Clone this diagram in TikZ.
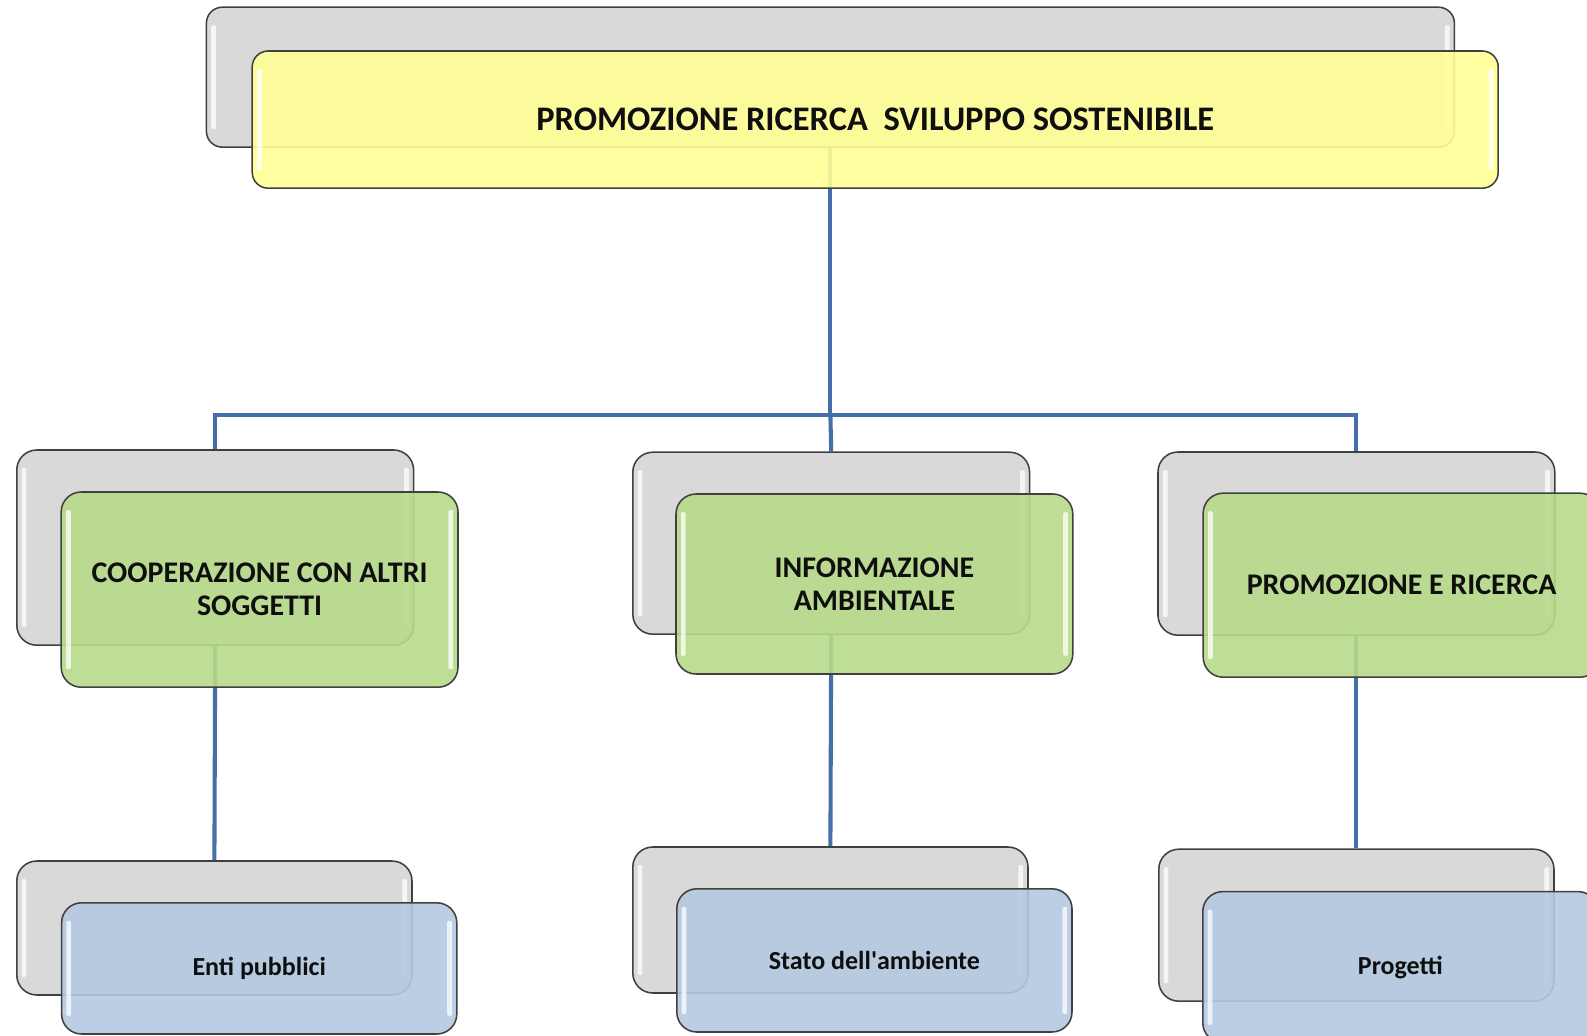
\documentclass[tikz,border=0pt]{standalone}
\usepackage{fontspec}
\setmainfont{Carlito}
\usetikzlibrary{backgrounds}
\definecolor{backgray}{RGB}{217, 217, 217}
\definecolor{titleyellow}{RGB}{255, 255, 150}
\definecolor{areagreen}{RGB}{183, 218, 138}
\definecolor{itemblue}{RGB}{181, 201, 225}
\definecolor{linkblue}{RGB}{70, 110, 168}
\definecolor{textdark}{RGB}{15, 15, 15}

\begin{document}
\begin{tikzpicture}[
        card/.style={rectangle, draw=black!75, line width=1.1pt, rounded corners=0.5cm, align=center,
            text=textdark, font=\bfseries,
            path picture={
                \fill[white, opacity=0.75, rounded corners=1pt]
                    ([shift={(0.12cm,-0.45cm)}]path picture bounding box.north west) rectangle
                    ([shift={(0.24cm,0.45cm)}]path picture bounding box.south west);
                \fill[white, opacity=0.75, rounded corners=1pt]
                    ([shift={(-0.24cm,-0.45cm)}]path picture bounding box.north east) rectangle
                    ([shift={(-0.12cm,0.45cm)}]path picture bounding box.south east);
            }},
        backbox/.style={card, fill=backgray},
        frontbox/.style={card, fill opacity=0.9, text opacity=1},
        level2/.style={minimum width=9.92cm, font=\bfseries\fontsize{21.3}{23.5}\selectfont},
        level3/.style={minimum width=9.88cm, font=\bfseries\fontsize{18.5}{22}\selectfont},
        link/.style={draw=linkblue, line width=2.9pt}
    ]
        \useasboundingbox (0,0) rectangle (39.675,-25.9);

        % Title
        \node[backbox, minimum width=31.2cm, minimum height=3.5cm, rounded corners=0.4cm] (topback) at (20.76,-1.93) {};
        \node[frontbox, fill=titleyellow, minimum width=31.15cm, minimum height=3.43cm, rounded corners=0.4cm,
            font=\bfseries\fontsize{24.5}{29}\selectfont] (top) at (21.88,-2.99) {PROMOZIONE RICERCA\ \ SVILUPPO SOSTENIBILE};

        % Areas
        \node[backbox, level2, minimum height=4.88cm] (coopback) at (5.38,-13.69) {};
        \node[frontbox, level2, fill=areagreen, minimum height=4.88cm] (coop) at (6.49,-14.74) {COOPERAZIONE CON ALTRI\\SOGGETTI};

        \node[backbox, level2, minimum height=4.55cm] (infoback) at (20.78,-13.58) {};
        \node[frontbox, level2, fill=areagreen, minimum height=4.5cm] (info) at (21.86,-14.6) {INFORMAZIONE\\AMBIENTALE};

        \node[backbox, level2, minimum height=4.58cm] (promback) at (33.91,-13.59) {};
        \node[frontbox, level2, fill=areagreen, minimum height=4.6cm] (prom) at (35.04,-14.63) {PROMOZIONE E RICERCA};

        % Items
        \node[backbox, level3, minimum height=3.35cm] (entiback) at (5.36,-23.2) {};
        \node[frontbox, level3, fill=itemblue, minimum height=3.28cm] (enti) at (6.48,-24.21) {Enti pubblici};

        \node[backbox, level3, minimum height=3.65cm] (statoback) at (20.76,-23.0) {};
        \node[frontbox, level3, fill=itemblue, minimum height=3.58cm] (stato) at (21.86,-24.01) {Stato dell\textquotesingle ambiente};

        \node[backbox, level3, minimum height=3.8cm] (progback) at (33.91,-23.13) {};
        \node[frontbox, level3, fill=itemblue, minimum height=3.78cm] (prog) at (35.01,-24.18) {Progetti};

        % Connectors
        \coordinate (bus) at (20.76,-10.38);
        \begin{scope}[on background layer]
            \draw[link] (topback.south) -- (bus);
            \draw[link] (bus) -| (coopback.north);
            \draw[link] (bus) -- (infoback.north);
            \draw[link] (bus) -| (promback.north);
            \draw[link] (coopback.south) -- (entiback.north);
            \draw[link] (infoback.south) -- (statoback.north);
            \draw[link] (promback.south) -- (progback.north);
        \end{scope}
    \end{tikzpicture}
\end{document}
